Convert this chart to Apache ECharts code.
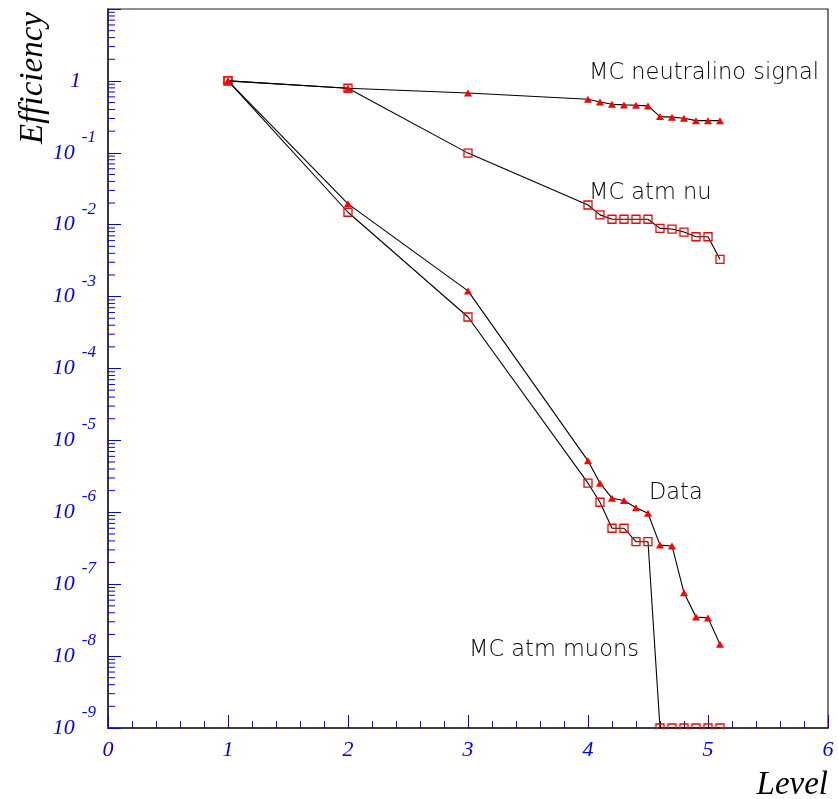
<!DOCTYPE html>
<html>
<head>
<meta charset="utf-8">
<script src="https://cdn.jsdelivr.net/npm/echarts@6/dist/echarts.min.js"></script>
<style>html,body{margin:0;padding:0;background:#fff;}#c{width:838px;height:799px;}</style>
</head>
<body>
<div id="c"></div>
<script>
// ---- data ----
const levels = [1, 2, 3, 4, 4.1, 4.2, 4.3, 4.4, 4.5, 4.6, 4.7, 4.8, 4.9, 5.0, 5.1];
const neutralinoSignal = [1, 0.79, 0.68, 0.556, 0.51, 0.474, 0.464, 0.459, 0.449, 0.319, 0.313, 0.303, 0.28, 0.28, 0.28];
const atmNu = [1, 0.79, 0.099, 0.0188, 0.0137, 0.0119, 0.0119, 0.0119, 0.0119, 0.0089, 0.0087, 0.0079, 0.0068, 0.0068, 0.0033];
const dataEff = [1, 0.0195, 0.0012, 5.2e-6, 2.54e-6, 1.57e-6, 1.46e-6, 1.16e-6, 9.7e-7, 3.5e-7, 3.4e-7, 7.6e-8, 3.5e-8, 3.4e-8, 1.46e-8];
const atmMuons = [1, 0.0149, 5.2e-4, 2.54e-6, 1.38e-6, 6.0e-7, 6.0e-7, 3.9e-7, 3.9e-7, 1e-9, 1e-9, 1e-9, 1e-9, 1e-9, 1e-9];
const xTicks = [0, 1, 2, 3, 4, 5, 6];
const decades = [-9, -8, -7, -6, -5, -4, -3, -2, -1, 0];
const minorMultipliers = [2, 3, 4, 5, 6, 7, 8, 9];
const annotations = [
  { text: 'MC neutralino signal', x: 589, y: 73 },
  { text: 'MC atm nu', x: 589, y: 193 },
  { text: 'Data', x: 649, y: 493 },
  { text: 'MC atm muons', x: 469, y: 650 }
];

const BLUE = '#0000f0';
const SERIF = '"Liberation Serif", "Times New Roman", serif';
const pairs = (ys) => levels.map((x, i) => [x, ys[i]]);
const minorData = [];
decades.forEach(k => minorMultipliers.forEach(m => minorData.push([0, m * Math.pow(10, k)])));

const chart = echarts.init(document.getElementById('c'), null, { renderer: 'canvas' });

const lineBase = {
  type: 'line',
  lineStyle: { color: '#000', width: 1.1 },
  animation: false,
  clip: true
};
const triStyle = { symbol: 'triangle', symbolSize: [8, 7], itemStyle: { color: '#ff0000', borderWidth: 0 } };
const sqStyle = { symbol: 'rect', symbolSize: 8, itemStyle: { color: 'rgba(0,0,0,0)', borderColor: '#ff0000', borderWidth: 1.3 } };

chart.setOption({
  animation: false,
  backgroundColor: '#fff',
  grid: { left: 108, right: 10, top: 9, bottom: 71, show: true, borderColor: '#222', borderWidth: 1.2, backgroundColor: 'transparent' },
  xAxis: {
    type: 'value', min: xTicks[0], max: xTicks[xTicks.length - 1], interval: 1,
    axisLine: { lineStyle: { color: '#222', width: 1.5 } },
    axisTick: { inside: true, length: 13, lineStyle: { color: BLUE, width: 1 } },
    minorTick: { show: true, splitNumber: 5, length: 7, lineStyle: { color: BLUE, width: 1 } },
    splitLine: { show: false },
    axisLabel: { color: BLUE, fontFamily: SERIF, fontStyle: 'italic', fontSize: 22, margin: 11 }
  },
  yAxis: {
    type: 'log', logBase: 10, min: 1e-9, max: 10, interval: 1, splitNumber: 10,
    axisLine: { lineStyle: { color: '#222', width: 1.5 } },
    axisTick: { inside: true, length: 13, lineStyle: { color: BLUE, width: 1 } },
    splitLine: { show: false },
    axisLabel: {
      margin: 12,
      formatter: function (v) {
        const e = Math.round(Math.log10(v));
        if (e === 1) return '';
        if (e === 0) return '{one|1}';
        return '{b|10}{e|' + e + '}';
      },
      rich: {
        one: { color: BLUE, fontFamily: SERIF, fontStyle: 'italic', fontSize: 22, padding: [0, 15, 0, 0] },
        b: { color: BLUE, fontFamily: SERIF, fontStyle: 'italic', fontSize: 22 },
        e: { color: BLUE, fontFamily: SERIF, fontStyle: 'italic', fontSize: 17, padding: [0, 0, 31, 7] }
      }
    }
  },
  series: [
    Object.assign({}, lineBase, triStyle, { name: 'MC neutralino signal', data: pairs(neutralinoSignal), z: 3 }),
    Object.assign({}, lineBase, sqStyle, { name: 'MC atm nu', data: pairs(atmNu), z: 2 }),
    Object.assign({}, lineBase, triStyle, { name: 'Data', data: pairs(dataEff), z: 3 }),
    Object.assign({}, lineBase, sqStyle, { name: 'MC atm muons', data: pairs(atmMuons), z: 2 }),
    {
      type: 'custom', name: 'minorY', data: minorData, silent: true, clip: false, z: 1,
      renderItem: function (params, api) {
        const p = api.coord([api.value(0), api.value(1)]);
        return { type: 'line', shape: { x1: p[0], y1: p[1], x2: p[0] + 7, y2: p[1] }, style: { stroke: BLUE, lineWidth: 1 } };
      }
    }
  ],
  graphic: [
    // mask symbols below the plot frame (the reference clips markers at the frame)
    { type: 'rect', z: 100, shape: { x: 112, y: 729.5, width: 712, height: 7 }, style: { fill: '#fff' } },
    { type: 'text', x: 33, y: 78, rotation: Math.PI / 2, style: { text: 'Efficiency', font: 'italic 33px ' + SERIF, fill: '#000', align: 'center', verticalAlign: 'middle' } },
    { type: 'text', x: 828, y: 785, style: { text: 'Level', font: 'italic 33px ' + SERIF, fill: '#000', align: 'right', verticalAlign: 'middle' } }
  ].concat(annotations.map(a => ({
    type: 'text', x: a.x, y: a.y,
    style: { text: a.text, fontFamily: '"DejaVu Sans"', fontWeight: 200, fontSize: 22.5, fill: '#000', align: 'left', verticalAlign: 'middle' }
  })))
});
</script>
</body>
</html>
